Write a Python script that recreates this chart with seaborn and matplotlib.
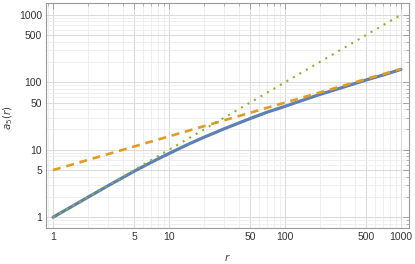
import numpy as np
import pandas as pd
import matplotlib
matplotlib.use('Agg')
import matplotlib.pyplot as plt
import matplotlib.ticker as mticker
import seaborn as sns

# values (log-log)
r_blue = [1, 2, 3, 5, 7, 10, 15, 20, 30, 50, 70, 100, 150, 200, 300, 500, 700, 1000]
a_blue = [1.0, 1.98, 2.95, 4.8, 6.5, 8.8, 12.3, 15.3, 20.5, 29, 36, 44, 56, 66, 82, 108, 128, 155]
r_orange = [1, 10, 100, 1000]
a_orange = [5.0, 15.8, 50.0, 158.0]
r_green = [1, 10, 100, 1000]
a_green = [1.0, 10.0, 100.0, 1000.0]

xticks = [1, 5, 10, 50, 100, 500, 1000]
yticks = [1, 5, 10, 50, 100, 500, 1000]

sns.set_theme(style='white')
plt.rcParams['font.family'] = ['Liberation Sans', 'DejaVu Sans']

fig = plt.figure(figsize=(4.15, 2.64), dpi=100)
ax = fig.add_axes([0.111, 0.136, 0.875, 0.852])

df_b = pd.DataFrame({'r': r_blue, 'a': a_blue})
df_o = pd.DataFrame({'r': r_orange, 'a': a_orange})
df_g = pd.DataFrame({'r': r_green, 'a': a_green})

sns.lineplot(data=df_b, x='r', y='a', ax=ax, color='#5E81B5', lw=2.3, zorder=3)
sns.lineplot(data=df_o, x='r', y='a', ax=ax, color='#E19C24', lw=1.9,
             ls=(0, (3, 2.2)), zorder=4)
sns.lineplot(data=df_g, x='r', y='a', ax=ax, color='#8FB032', lw=1.5,
             ls=(0, (1, 2.6)), zorder=5)

ax.set_xscale('log')
ax.set_yscale('log')
ax.set_xlim(0.87, 1180)
ax.set_ylim(0.69, 1490)

ax.xaxis.set_major_locator(mticker.FixedLocator(xticks))
ax.yaxis.set_major_locator(mticker.FixedLocator(yticks))
ax.xaxis.set_major_formatter(mticker.FixedFormatter([str(t) for t in xticks]))
ax.yaxis.set_major_formatter(mticker.FixedFormatter([str(t) for t in yticks]))
ax.xaxis.set_minor_locator(mticker.LogLocator(base=10, subs=np.arange(2, 10)))
ax.yaxis.set_minor_locator(mticker.LogLocator(base=10, subs=np.arange(2, 10)))
ax.xaxis.set_minor_formatter(mticker.NullFormatter())
ax.yaxis.set_minor_formatter(mticker.NullFormatter())

ax.grid(True, which='major', color='#dcdcdc', lw=0.8)
ax.grid(True, which='minor', color='#ececec', lw=0.6)
ax.set_axisbelow(True)

for s in ax.spines.values():
    s.set_color('#9a9a9a')
    s.set_linewidth(0.8)

ax.tick_params(which='both', direction='in', top=True, right=True,
               colors='#9a9a9a', labelcolor='#333333', labelsize=7.5, pad=3)
ax.tick_params(which='major', length=4, width=0.6)
ax.tick_params(which='minor', length=2, width=0.5)

ax.set_xlabel('$r$', fontsize=7.5, color='#444444')
ax.set_ylabel('$a_5(r)$', fontsize=7.5, color='#444444')
ax.xaxis.set_label_coords(0.5, -0.105)
ax.yaxis.set_label_coords(-0.085, 0.49)

fig.savefig('out.png', dpi=100)
